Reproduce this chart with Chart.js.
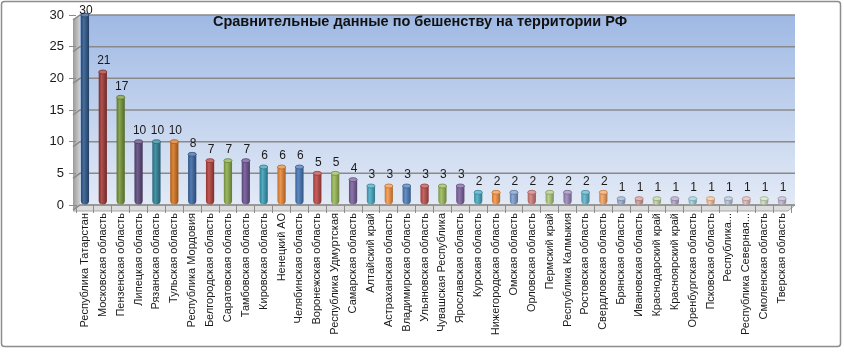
<!DOCTYPE html>
<html>
<head>
<meta charset="utf-8">
<script src="https://cdn.jsdelivr.net/npm/chart.js@4.4.1/dist/chart.umd.min.js"></script>
<style>
  html, body { margin: 0; padding: 0; background: #fff; }
</style>
</head>
<body>
<canvas id="chart" width="844" height="352"></canvas>
<script>
const chartTitle = 'Сравнительные данные по бешенству на территории РФ';

const regions = [
  'Республика Татарстан', 'Московская область', 'Пензенская область', 'Липецкая область',
  'Рязанская область', 'Тульская область', 'Республика Мордовия', 'Белгородская область',
  'Саратовская область', 'Тамбовская область', 'Кировская область', 'Ненецкий АО',
  'Челябинская область', 'Воронежская область', 'Республика Удмуртская', 'Самарская область',
  'Алтайский край', 'Астраханская область', 'Владимирская область', 'Ульяновская область',
  'Чувашская Республика', 'Ярославская область', 'Курская область', 'Нижегородская область',
  'Омская область', 'Орловская область', 'Пермский край', 'Республика Калмыкия',
  'Ростовская область', 'Свердловская область', 'Брянская область', 'Ивановская область',
  'Краснодарский край', 'Красноярский край', 'Оренбургская область', 'Псковская область',
  'Республика...', 'Республика Северная...', 'Смоленская область', 'Тверская область'
];

const cases = [30, 21, 17, 10, 10, 10, 8, 7, 7, 7, 6, 6, 6, 5, 5, 4, 3, 3, 3, 3,
               3, 3, 2, 2, 2, 2, 2, 2, 2, 2, 1, 1, 1, 1, 1, 1, 1, 1, 1, 1];

const barColors = [
  '#2f5a8e', '#a23a37', '#789838', '#5e4a7e', '#30849b', '#d9771f',
  '#3d6aa8', '#b8413e', '#8daf4c', '#6f5596', '#3b9fb8', '#ec8938',
  '#4879ba', '#c04a47', '#9bbb59', '#7d62a0', '#4bacc6', '#f79646',
  '#4f81bd', '#c0504d', '#9bbb59', '#8064a2', '#4bacc6', '#f79646',
  '#7d9fd0', '#d27f7d', '#b1cc80', '#9d89bb', '#5fb7cf', '#f8a566',
  '#9db4d6', '#dc9e9c', '#c4d8a6', '#b5a8cb', '#a2d3e0', '#f9c29a',
  '#b9c7de', '#e3bcbb', '#d3e2c0', '#c5bdd6'
];

const yTicks = [0, 5, 10, 15, 20, 25, 30];

function shade(hex, amt) {
  const n = parseInt(hex.slice(1), 16);
  let r = n >> 16, g = (n >> 8) & 255, b = n & 255;
  const f = c => amt < 0 ? Math.round(c * (1 + amt)) : Math.round(c + (255 - c) * amt);
  return `rgb(${f(r)},${f(g)},${f(b)})`;
}

// wall, floor, grid and title, like the old excel 3d chart
const decor = {
  id: 'decor',
  beforeDraw(chart) {
    const { ctx, chartArea: a } = chart;
    const y = chart.scales.y;
    const x0 = a.left + 4, x1 = a.right + 4;
    ctx.save();
    ctx.fillStyle = '#fff';
    ctx.fillRect(0, 0, chart.width, chart.height);

    ctx.strokeStyle = '#8c8c8c';
    ctx.lineWidth = 1.5;
    ctx.beginPath();
    ctx.roundRect(1.5, 1.5, 839, 345, 3);
    ctx.stroke();

    const wall = ctx.createLinearGradient(0, a.top, 0, a.bottom);
    wall.addColorStop(0, '#9fb9e4');
    wall.addColorStop(1, '#e3eaf6');
    ctx.fillStyle = wall;
    ctx.fillRect(x0, a.top, x1 - x0, a.bottom - a.top);

    // left side wall
    const side = ctx.createLinearGradient(a.left - 3, 0, x0, 0);
    side.addColorStop(0, '#9a9a9a');
    side.addColorStop(1, '#d0d0d0');
    ctx.fillStyle = side;
    ctx.beginPath();
    ctx.moveTo(a.left - 3, a.top + 4);
    ctx.lineTo(x0, a.top);
    ctx.lineTo(x0, a.bottom);
    ctx.lineTo(a.left - 3, a.bottom + 6);
    ctx.closePath();
    ctx.fill();

    // floor
    ctx.fillStyle = '#dcdcdc';
    ctx.strokeStyle = '#a6a6a6';
    ctx.lineWidth = 1;
    ctx.beginPath();
    ctx.moveTo(x0, a.bottom);
    ctx.lineTo(x1, a.bottom);
    ctx.lineTo(x1 - 7, a.bottom + 6);
    ctx.lineTo(a.left - 3, a.bottom + 6);
    ctx.closePath();
    ctx.fill();
    ctx.stroke();

    ctx.strokeStyle = '#8a8a8a';
    ctx.lineWidth = 1.5;
    yTicks.forEach(v => {
      const py = y.getPixelForValue(v);
      ctx.beginPath();
      ctx.moveTo(a.left - 3, py + 5);
      ctx.lineTo(x0, py);
      ctx.lineTo(x1, py);
      ctx.stroke();
    });
    ctx.restore();
  },
  afterDatasetsDraw(chart) {
    const { ctx } = chart;
    const meta = chart.getDatasetMeta(0);
    ctx.save();
    meta.data.forEach((el, i) => {
      const c = barColors[i];
      ctx.fillStyle = shade(c, 0.25);
      ctx.strokeStyle = shade(c, -0.25);
      ctx.lineWidth = 0.8;
      ctx.beginPath();
      ctx.ellipse(el.x, el.y, el.width / 2, 2, 0, 0, Math.PI * 2);
      ctx.fill();
      ctx.stroke();

      ctx.fillStyle = '#1a1a1a';
      ctx.font = '12px "Liberation Sans", Arial, sans-serif';
      ctx.textAlign = 'center';
      ctx.textBaseline = 'bottom';
      ctx.fillText(String(cases[i]), el.x + 1, Math.max(el.y - 5, 17));
    });

    ctx.fillStyle = '#111';
    ctx.font = 'bold 14.5px "Liberation Sans", Arial, sans-serif';
    ctx.textAlign = 'center';
    ctx.textBaseline = 'middle';
    ctx.fillText(chartTitle, 420, 22);
    ctx.restore();
  }
};

new Chart(document.getElementById('chart'), {
  type: 'bar',
  data: {
    labels: regions,
    datasets: [{
      data: cases,
      barPercentage: 0.46,
      categoryPercentage: 1,
      borderRadius: { bottomLeft: 4, bottomRight: 4 },
      borderSkipped: false,
      backgroundColor: ctx => {
        const chart = ctx.chart;
        const sx = chart.scales.x;
        const c = barColors[ctx.dataIndex];
        if (!sx || !chart.chartArea) return c;
        const cx = sx.getPixelForValue(ctx.dataIndex);
        const g = chart.ctx.createLinearGradient(cx - 4, 0, cx + 4, 0);
        g.addColorStop(0, shade(c, -0.2));
        g.addColorStop(0.35, shade(c, 0.12));
        g.addColorStop(1, shade(c, -0.3));
        return g;
      }
    }]
  },
  options: {
    responsive: false,
    animation: false,
    layout: { padding: { top: 15, right: 53, left: 0, bottom: 0 } },
    plugins: {
      legend: { display: false },
      tooltip: { enabled: false }
    },
    scales: {
      x: {
        grid: { drawOnChartArea: false, tickLength: 8, color: '#8c8c8c' },
        border: { display: false },
        ticks: {
          autoSkip: false,
          minRotation: 90,
          maxRotation: 90,
          padding: 0,
          color: '#1a1a1a',
          font: { family: '"Liberation Sans", Arial, sans-serif', size: 11 }
        },
        afterFit: scale => { scale.height = 147; }
      },
      y: {
        min: 0,
        max: 30,
        grid: { drawOnChartArea: false, tickLength: 7, color: '#8c8c8c' },
        border: { display: false },
        ticks: {
          stepSize: 5,
          padding: 5,
          color: '#1a1a1a',
          font: { family: '"Liberation Sans", Arial, sans-serif', size: 13 }
        },
        afterFit: scale => { scale.width = 76; }
      }
    }
  },
  plugins: [decor]
});
</script>
</body>
</html>
